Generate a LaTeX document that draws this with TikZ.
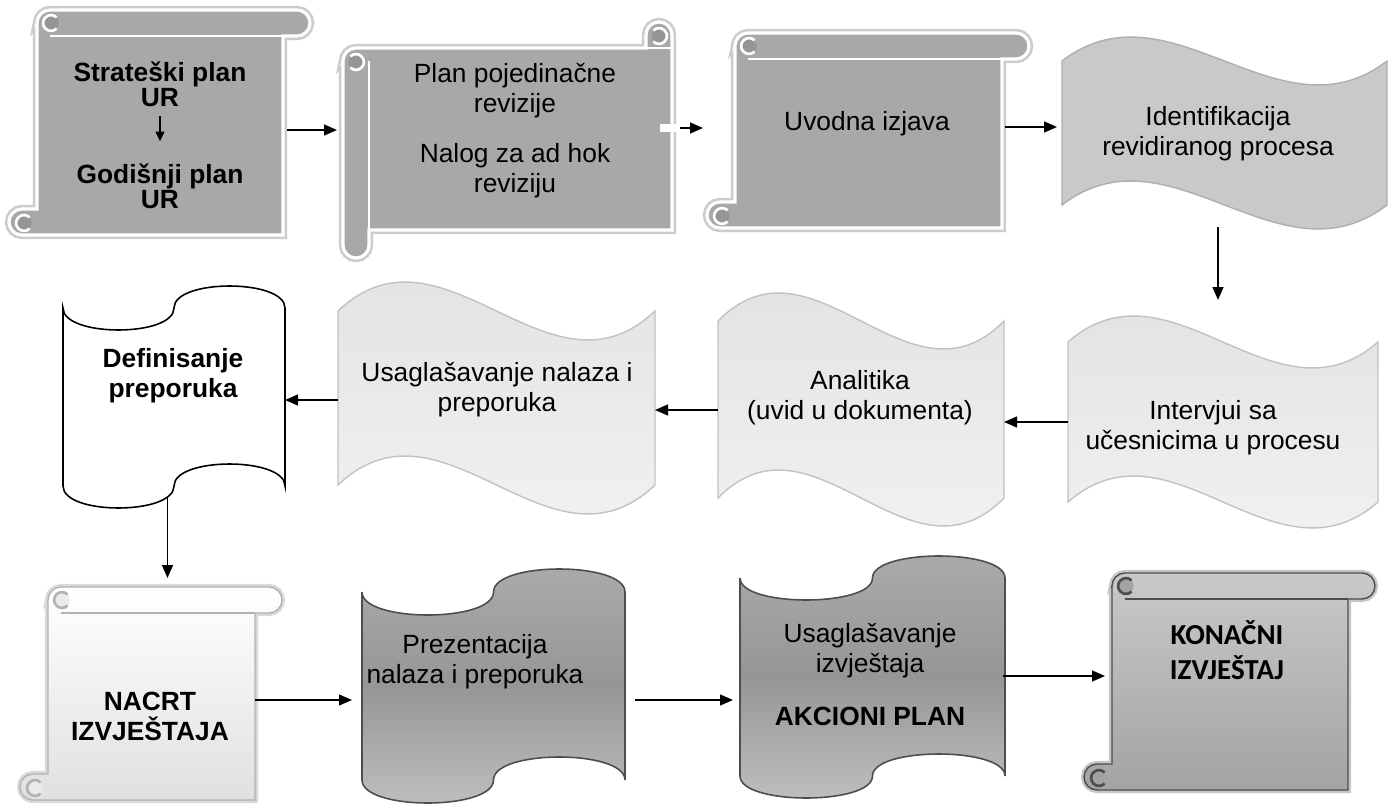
\documentclass[tikz,border=0pt]{standalone}
\usepackage{fontspec}
\setmainfont{Liberation Sans}
\newfontfamily\calibrifont{Carlito}
\usetikzlibrary{arrows.meta,fit}

\definecolor{topgray}{HTML}{A8A8A8}
\definecolor{curlgray}{HTML}{959595}
\definecolor{wavegray}{HTML}{C9C9C9}
\definecolor{waveedge}{HTML}{AFAFAF}
\definecolor{paletop}{HTML}{E0E0E0}
\definecolor{palebot}{HTML}{F4F4F4}
\definecolor{paleedge}{HTML}{C2C2C2}
\definecolor{darktop}{HTML}{ABABAB}
\definecolor{darkmid}{HTML}{969696}
\definecolor{darkbot}{HTML}{C0C0C0}
\definecolor{darkedge}{HTML}{4D4D4D}
\definecolor{finaltop}{HTML}{C9C9C9}
\definecolor{finalbot}{HTML}{A3A3A3}

% scroll with rod on top and lip at bottom left: body left, body right, rod top, bottom, style
\newcommand{\hscroll}[5]{%
  \path[#5] (#1,#3+13) -- (#1,#4-26) -- (#1-15,#4-26)
    arc[start angle=90, end angle=270, radius=7.4pt] -- (#2,#4) -- (#2,#3+26)
    -- (#2+14,#3+26) arc[start angle=-90, end angle=90, radius=7.4pt]
    -- (#1+13,#3) arc[start angle=90, end angle=180, radius=7.4pt] -- cycle;
}
% rod line and curls: body left, body right, rod top, bottom, line colour, curl fill
\newcommand{\scrolldetail}[6]{%
  \draw[#5, line width=1.4pt] (#1+13,#3+26) -- (#2,#3+26);
  \fill[#6] (#1+14,#3+13) circle[radius=4.4pt];
  \draw[#5, line width=1.5pt] (#1+19.6,#3+7.4) arc[start angle=45, end angle=315, radius=4.5pt];
  \fill[#6] (#1-13,#4-12) circle[radius=4.4pt];
  \draw[#5, line width=1.5pt] (#1-7.4,#4-17.6) arc[start angle=45, end angle=315, radius=4.5pt];
}
% wavy ribbon: x1, x2, top, bottom, amplitude, style
\newcommand{\waveshape}[6]{%
  \path[#6] (#1,#3) .. controls ({#1+(#2-#1)/3},{#3-3.46*#5}) and ({#1+2*(#2-#1)/3},{#3+3.46*#5}) .. (#2,#3)
    -- (#2,#4) .. controls ({#1+2*(#2-#1)/3},{#4+3.46*#5}) and ({#1+(#2-#1)/3},{#4-3.46*#5}) .. (#1,#4) -- cycle;
}
% punched tape: x1, x2, top, bottom, amplitude, style
\newcommand{\tapeshape}[6]{%
  \path[#6] (#1,#3) .. controls (#1,{#3+1.333*#5}) and ({(#1+#2)/2},{#3+1.333*#5}) .. ({(#1+#2)/2},#3)
    .. controls ({(#1+#2)/2},{#3-1.333*#5}) and (#2,{#3-1.333*#5}) .. (#2,#3)
    -- (#2,#4) .. controls (#2,{#4-1.333*#5}) and ({(#1+#2)/2},{#4-1.333*#5}) .. ({(#1+#2)/2},#4)
    .. controls ({(#1+#2)/2},{#4+1.333*#5}) and (#1,{#4+1.333*#5}) .. (#1,#4) -- cycle;
}

\tikzset{
  scrollface/.style={fill=topgray, draw=white, line width=1.8pt, preaction={draw=gray!40, line width=4.8pt}},
  draftface/.style={top color=white, bottom color=black!12, draw=gray!60, line width=0.8pt, preaction={draw=gray!30, line width=3.5pt}},
  finalface/.style={top color=finaltop, bottom color=finalbot, draw=darkedge, line width=0.8pt, preaction={draw=gray!45, line width=3.5pt}},
  ribbon/.style={fill=wavegray, draw=waveedge, line width=0.8pt},
  paleribbon/.style={top color=paletop, bottom color=palebot, draw=paleedge, line width=0.8pt},
  tapeplain/.style={fill=white, draw=black, line width=0.9pt},
  tapedark/.style={top color=darktop, bottom color=darkbot, middle color=darkmid, draw=darkedge, line width=0.9pt},
  zone/.style={inner sep=0pt, outer sep=0pt},
  txt/.style={align=center, font=\fontsize{15}{17}\selectfont},
  txtb/.style={align=center, font=\fontsize{15}{17}\selectfont\bfseries},
  flow/.style={-{Triangle[length=7.4pt,width=6.2pt]}, line width=1pt},
  smallflow/.style={-{Triangle[length=5.5pt,width=5pt]}, line width=0.9pt}
}

\begin{document}
\begin{tikzpicture}[x=0.02cm, y=-0.02cm]
\path[use as bounding box, fill=white] (0,0) rectangle (1393,811);

% top row
\hscroll{37}{283}{10}{235}{scrollface}
\scrolldetail{37}{283}{10}{235}{white}{curlgray}

\path[scrollface] (343,61) -- (343,245) arc[start angle=180, end angle=360, radius=7.4pt]
  -- (369,230) -- (672,230) -- (672,35) arc[start angle=0, end angle=180, radius=7.4pt]
  -- (646,48) -- (356,48) arc[start angle=90, end angle=180, radius=7.4pt] -- cycle;
\draw[white, line width=1.4pt] (369,61) -- (369,230);
\draw[white, line width=1.4pt] (646,48) -- (672,48);
\fill[curlgray] (356,62) circle[radius=4.4pt];
\draw[white, line width=1.5pt] (350.4,67.6) arc[start angle=225, end angle=495, radius=4.5pt];
\fill[curlgray] (659,36) circle[radius=4.2pt];
\draw[white, line width=1.5pt] (653.4,41.6) arc[start angle=225, end angle=495, radius=4.5pt];
\fill[white] (660,124) rectangle (680,132);

\hscroll{735}{1002}{33}{228}{scrollface}
\scrolldetail{735}{1002}{33}{228}{white}{curlgray}

\waveshape{1062}{1387}{61}{205}{24}{ribbon}

% middle row
\waveshape{1068}{1378}{342}{502}{26}{paleribbon}
\waveshape{718}{1004}{321}{498}{28}{paleribbon}
\waveshape{338}{655}{311}{485}{29}{paleribbon}
\tapeshape{63}{285}{308}{486}{22}{tapeplain}

% bottom row
\hscroll{48}{255}{587}{800}{draftface}
\scrolldetail{48}{255}{587}{800}{gray!60}{black!8}
\tapeshape{362}{625}{592}{780}{23}{tapedark}
\tapeshape{740}{1005}{578}{776}{22}{tapedark}
\hscroll{1112}{1348}{573}{790}{finalface}
\scrolldetail{1112}{1348}{573}{790}{darkedge}{finalbot}

% areas used by the connectors
\node[zone, fit={(37,30) (287,230)}] (strat) {};
\node[zone, fit={(337,28) (680,228)}] (pojed) {};
\node[zone, fit={(703,27) (1005,227)}] (uvod) {};
\node[zone, fit={(1057,30) (1387,227)}] (ident) {};
\node[zone, fit={(1068,300) (1368,544)}] (interv) {};
\node[zone, fit={(718,290) (1004,530)}] (anal) {};
\node[zone, fit={(338,280) (655,520)}] (usagl) {};
\node[zone, fit={(50,297) (285,497)}] (defin) {};
\node[zone, fit={(48,578) (255,822)}] (nacrt) {};
\node[zone, fit={(352,580) (635,820)}] (prez) {};
\node[zone, fit={(733,560) (1003,805)}] (akc) {};
\node[zone, fit={(1105,572) (1375,780)}] (konac) {};

% texts
\node[txtb, font=\fontsize{15}{13}\selectfont\bfseries] (strat-t) at (160,84) {Strateški plan\\UR};
\node[txtb, font=\fontsize{15}{13}\selectfont\bfseries] (godis-t) at (160,186) {Godišnji plan\\UR};
\node[txt] (pojed-t1) at (515,91) {Plan pojedinačne\\revizije};
\node[txt] (pojed-t2) at (515,171) {Nalog za ad hok\\reviziju};
\node[txt] (uvod-t) at (867,124) {Uvodna izjava};
\node[txt] (ident-t) at (1218,134) {Identifikacija\\revidiranog procesa};
\node[txt] (interv-t) at (1213,428) {Intervjui sa\\učesnicima u procesu};
\node[txt] (anal-t) at (860,398) {Analitika\\(uvid u dokumenta)};
\node[txt] (usagl-t) at (497,390) {Usaglašavanje nalaza i\\preporuka};
\node[txtb] (defin-t) at (173,376) {Definisanje\\preporuka};
\node[txtb] (nacrt-t) at (150,716) {NACRT\\IZVJEŠTAJA};
\node[txt] (prez-t) at (475,662) {Prezentacija\\nalaza i preporuka};
\node[txt] (akc-t1) at (870,651) {Usaglašavanje\\izvještaja};
\node[txtb] (akc-t2) at (870,716) {AKCIONI PLAN};
\node[align=center, font=\fontsize{16.5}{20}\selectfont\calibrifont\bfseries] (konac-t) at (1227,650) {KONAČNI\\IZVJEŠTAJ};

% connectors
\draw[smallflow, shorten <=2pt, shorten >=9pt] (strat-t.south) -- (godis-t.north);
\draw[flow] (strat.east) -- (strat.east -| pojed.west);
\draw[flow] (pojed.east) -- (pojed.east -| uvod.west);
\draw[flow] (uvod.east) -- (uvod.east -| ident.west);
\draw[flow] (interv.north |- ident.south) -- (interv.north);
\draw[flow] (interv.west) -- (interv.west -| anal.east);
\draw[flow] (anal.west) -- (anal.west -| usagl.east);
\draw[flow] (usagl.west) -- (usagl.west -| defin.east);
\draw[flow] (defin.south) -- (defin.south |- nacrt.north);
\draw[flow] (nacrt.east) -- (nacrt.east -| prez.west);
\draw[flow] (prez.east) -- (prez.east -| akc.west);
\draw[flow] (konac.west -| akc.east) -- (konac.west);
\end{tikzpicture}
\end{document}
